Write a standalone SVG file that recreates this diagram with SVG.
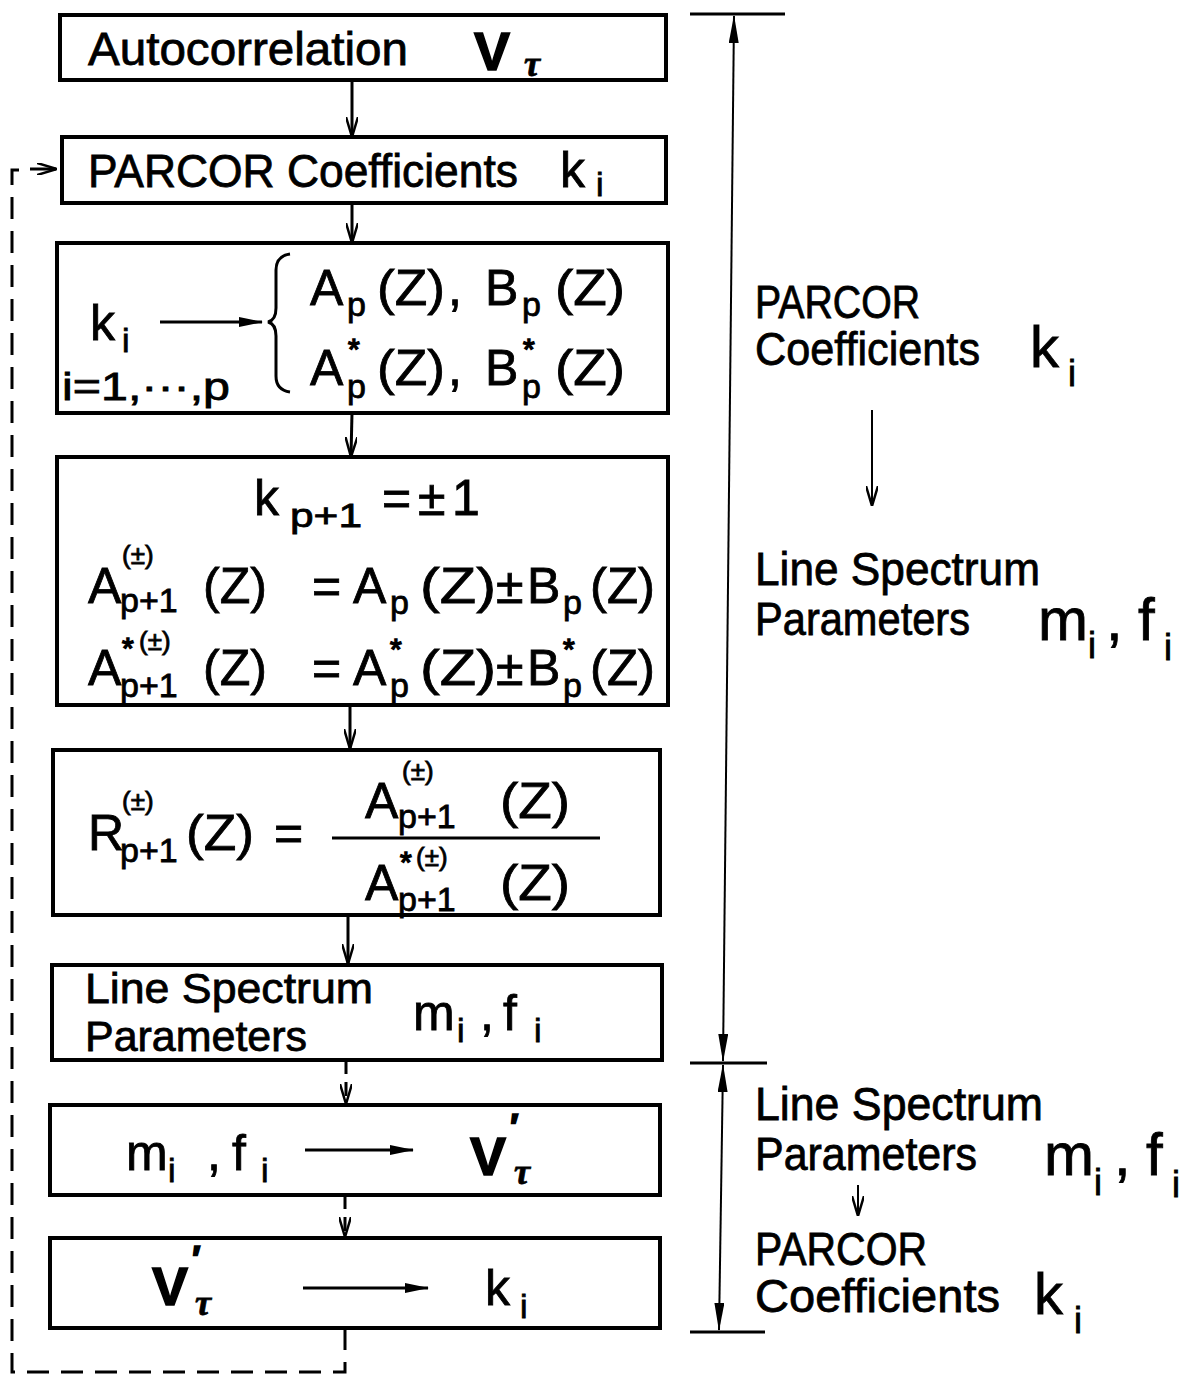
<svg xmlns="http://www.w3.org/2000/svg" width="1184" height="1375" viewBox="0 0 1184 1375">
<defs>
<style>
.box{fill:#fff;stroke:#000;stroke-width:4}
.t{font-family:"Liberation Sans","DejaVu Sans",sans-serif;fill:#000;stroke:#000;stroke-width:0.8}
.m{font-size:50px}
.s{font-size:34px}
.sup{font-size:26px}
.ast{font-size:30px;stroke-width:1.5}
.b{font-weight:bold;stroke-width:1.5}
.tau{font-family:"Liberation Serif",serif;font-style:italic;font-weight:bold}
.ln{fill:none;stroke:#000;stroke-width:3}
.dash{fill:none;stroke:#000;stroke-width:3;stroke-dasharray:22 12}
.thin{fill:none;stroke:#000;stroke-width:2}
</style>
<marker id="ah" viewBox="0 0 20 12" refX="19" refY="6" markerWidth="20" markerHeight="12" markerUnits="userSpaceOnUse" orient="auto">
<path d="M0,0 L20,6 L0,12" fill="none" stroke="#000" stroke-width="2.5"/>
</marker>
<marker id="af" viewBox="0 0 24 10" refX="23" refY="5" markerWidth="24" markerHeight="10" markerUnits="userSpaceOnUse" orient="auto">
<path d="M0,0 L24,5 L0,10 Z" fill="#000"/>
</marker>
<marker id="ad" viewBox="0 0 28 10" refX="27" refY="5" markerWidth="28" markerHeight="10" markerUnits="userSpaceOnUse" orient="auto-start-reverse">
<path d="M0,0 L28,5 L0,10 Z" fill="#000"/>
</marker>
</defs>

<g id="connectors">
<line class="ln" x1="352" y1="80" x2="352" y2="136" marker-end="url(#ah)"/>
<line class="ln" x1="352" y1="203" x2="352" y2="242" marker-end="url(#ah)"/>
<line class="ln" x1="352" y1="413" x2="351" y2="456" marker-end="url(#ah)"/>
<line class="ln" x1="350" y1="705" x2="350" y2="748" marker-end="url(#ah)"/>
<line class="ln" x1="348" y1="915" x2="348" y2="963" marker-end="url(#ah)"/>
<line class="ln" x1="346" y1="1060" x2="346" y2="1103" stroke-dasharray="14 8" marker-end="url(#ah)"/>
<line class="ln" x1="345" y1="1195" x2="345" y2="1236" stroke-dasharray="14 8" marker-end="url(#ah)"/>
<path class="dash" d="M345,1328 V1372 H12 V170 H26"/>
<line class="ln" x1="30" y1="169" x2="56" y2="169" marker-end="url(#ah)"/>
<line class="ln" x1="690" y1="14" x2="785" y2="14"/>
<line class="ln" x1="690" y1="1063" x2="767" y2="1063"/>
<line class="ln" x1="690" y1="1332" x2="765" y2="1332"/>
<line class="thin" x1="734" y1="16" x2="723" y2="1061" marker-start="url(#ad)" marker-end="url(#ad)"/>
<line class="thin" x1="723" y1="1065" x2="719" y2="1330" marker-start="url(#ad)" marker-end="url(#ad)"/>
<line class="thin" x1="872" y1="410" x2="872" y2="505" marker-end="url(#ah)"/>
<line class="thin" x1="858" y1="1185" x2="858" y2="1215" marker-end="url(#ah)"/>
</g>

<g id="n1">
<rect class="box" x="60" y="15" width="606" height="65"/>
<text class="t" x="88" y="65" font-size="46" textLength="320" lengthAdjust="spacingAndGlyphs">Autocorrelation</text>
<text class="t b" x="474" y="70" font-size="54">V</text>
<text class="t tau" x="524" y="76" font-size="36">τ</text>
</g>

<g id="n2">
<rect class="box" x="62" y="137" width="604" height="66"/>
<text class="t" x="88" y="187" font-size="46" textLength="430" lengthAdjust="spacingAndGlyphs">PARCOR Coefficients</text>
<text class="t m" x="560" y="187">k</text>
<text class="t s" x="596" y="196">i</text>
</g>

<g id="n3">
<rect class="box" x="57" y="243" width="611" height="170"/>
<text class="t m" x="90" y="340">k</text>
<text class="t s" x="122" y="352">i</text>
<line class="ln" x1="160" y1="322" x2="262" y2="322" marker-end="url(#af)"/>
<path d="M290,254 Q276,256 276,270 V308 Q276,320 268,322 Q276,324 276,336 V376 Q276,390 290,392" fill="none" stroke="#000" stroke-width="3"/>
<text class="t" x="62" y="400" font-size="38" textLength="168" lengthAdjust="spacingAndGlyphs">i=1,···,p</text>
<text class="t m" x="310" y="305">A</text>
<text class="t s" x="347" y="316">p</text>
<text class="t m" x="377" y="305" textLength="68" lengthAdjust="spacingAndGlyphs">(Z)</text>
<text class="t m" x="448" y="305">,</text>
<text class="t m" x="485" y="305">B</text>
<text class="t s" x="522" y="316">p</text>
<text class="t m" x="555" y="305" textLength="70" lengthAdjust="spacingAndGlyphs">(Z)</text>
<text class="t m" x="310" y="385">A</text>
<text class="t ast" x="348" y="359">*</text>
<text class="t s" x="347" y="398">p</text>
<text class="t m" x="377" y="385" textLength="68" lengthAdjust="spacingAndGlyphs">(Z)</text>
<text class="t m" x="448" y="385">,</text>
<text class="t m" x="485" y="385">B</text>
<text class="t ast" x="523" y="359">*</text>
<text class="t s" x="522" y="398">p</text>
<text class="t m" x="555" y="385" textLength="70" lengthAdjust="spacingAndGlyphs">(Z)</text>
</g>

<g id="n4">
<rect class="box" x="57" y="457" width="611" height="248"/>
<text class="t m" x="254" y="515">k</text>
<text class="t s" x="290" y="527" textLength="72" lengthAdjust="spacingAndGlyphs">p+1</text>
<text class="t m" x="382" y="515">=</text>
<text class="t m" x="418" y="515">±</text>
<text class="t m" x="452" y="515">1</text>
<text class="t m" x="88" y="603">A</text>
<text class="t sup" x="122" y="564">(±)</text>
<text class="t s" x="120" y="612">p+1</text>
<text class="t m" x="203" y="603" textLength="64" lengthAdjust="spacingAndGlyphs">(Z)</text>
<text class="t m" x="312" y="603">=</text>
<text class="t m" x="353" y="603">A</text>
<text class="t s" x="390" y="614">p</text>
<text class="t m" x="420" y="603" textLength="76" lengthAdjust="spacingAndGlyphs">(Z)</text>
<text class="t m" x="496" y="603">±</text>
<text class="t m" x="527" y="603">B</text>
<text class="t s" x="563" y="614">p</text>
<text class="t m" x="590" y="603" textLength="65" lengthAdjust="spacingAndGlyphs">(Z)</text>
<text class="t m" x="88" y="685">A</text>
<text class="t ast" x="122" y="658">*</text>
<text class="t sup" x="139" y="650">(±)</text>
<text class="t s" x="120" y="697">p+1</text>
<text class="t m" x="203" y="685" textLength="64" lengthAdjust="spacingAndGlyphs">(Z)</text>
<text class="t m" x="312" y="685">=</text>
<text class="t m" x="353" y="685">A</text>
<text class="t ast" x="390" y="659">*</text>
<text class="t s" x="390" y="697">p</text>
<text class="t m" x="420" y="685" textLength="76" lengthAdjust="spacingAndGlyphs">(Z)</text>
<text class="t m" x="496" y="685">±</text>
<text class="t m" x="527" y="685">B</text>
<text class="t ast" x="563" y="659">*</text>
<text class="t s" x="563" y="697">p</text>
<text class="t m" x="590" y="685" textLength="65" lengthAdjust="spacingAndGlyphs">(Z)</text>
</g>

<g id="n5">
<rect class="box" x="53" y="750" width="607" height="165"/>
<text class="t m" x="88" y="850">R</text>
<text class="t sup" x="122" y="810">(±)</text>
<text class="t s" x="120" y="862">p+1</text>
<text class="t m" x="186" y="850" textLength="68" lengthAdjust="spacingAndGlyphs">(Z)</text>
<text class="t m" x="274" y="850">=</text>
<text class="t m" x="365" y="818">A</text>
<text class="t sup" x="402" y="780">(±)</text>
<text class="t s" x="398" y="828" font-size="32">p+1</text>
<text class="t m" x="500" y="818" textLength="70" lengthAdjust="spacingAndGlyphs">(Z)</text>
<line x1="332" y1="838" x2="600" y2="838" stroke="#000" stroke-width="3"/>
<text class="t m" x="365" y="900">A</text>
<text class="t ast" x="400" y="872">*</text>
<text class="t sup" x="416" y="866">(±)</text>
<text class="t s" x="398" y="911">p+1</text>
<text class="t m" x="500" y="900" textLength="70" lengthAdjust="spacingAndGlyphs">(Z)</text>
</g>

<g id="n6">
<rect class="box" x="52" y="965" width="610" height="95"/>
<text class="t" x="85" y="1003" font-size="43" textLength="288" lengthAdjust="spacingAndGlyphs">Line Spectrum</text>
<text class="t" x="85" y="1051" font-size="43" textLength="222" lengthAdjust="spacingAndGlyphs">Parameters</text>
<text class="t m" x="413" y="1030">m</text>
<text class="t s" x="457" y="1042">i</text>
<text class="t m" x="480" y="1030">,</text>
<text class="t m" x="503" y="1030">f</text>
<text class="t s" x="534" y="1042">i</text>
</g>

<g id="n7">
<rect class="box" x="50" y="1105" width="610" height="90"/>
<text class="t m" x="126" y="1170">m</text>
<text class="t s" x="168" y="1182">i</text>
<text class="t m" x="207" y="1170">,</text>
<text class="t m" x="232" y="1170">f</text>
<text class="t s" x="261" y="1182">i</text>
<line class="ln" x1="305" y1="1150" x2="413" y2="1150" marker-end="url(#af)"/>
<text class="t b" x="470" y="1175" font-size="54">V</text>
<text class="t b" x="510" y="1140" font-size="36">′</text>
<text class="t tau" x="514" y="1184" font-size="36">τ</text>
</g>

<g id="n8">
<rect class="box" x="50" y="1238" width="610" height="90"/>
<text class="t b" x="152" y="1305" font-size="54">V</text>
<text class="t b" x="192" y="1272" font-size="36">′</text>
<text class="t tau" x="195" y="1315" font-size="36">τ</text>
<line class="ln" x1="303" y1="1288" x2="428" y2="1288" marker-end="url(#af)"/>
<text class="t m" x="485" y="1305">k</text>
<text class="t s" x="520" y="1318">i</text>
</g>

<g id="labels">
<text class="t" x="755" y="318" font-size="46" textLength="165" lengthAdjust="spacingAndGlyphs">PARCOR</text>
<text class="t" x="755" y="365" font-size="46" textLength="225" lengthAdjust="spacingAndGlyphs">Coefficients</text>
<text class="t" x="1030" y="367" font-size="58">k</text>
<text class="t" x="1068" y="386" font-size="36">i</text>
<text class="t" x="755" y="585" font-size="46" textLength="285" lengthAdjust="spacingAndGlyphs">Line Spectrum</text>
<text class="t" x="755" y="635" font-size="46" textLength="215" lengthAdjust="spacingAndGlyphs">Parameters</text>
<text class="t" x="1038" y="640" font-size="60">m</text>
<text class="t" x="1088" y="658" font-size="36">i</text>
<text class="t" x="1106" y="640" font-size="60">,</text>
<text class="t" x="1138" y="640" font-size="60">f</text>
<text class="t" x="1164" y="660" font-size="36">i</text>
<text class="t" x="755" y="1120" font-size="46" textLength="288" lengthAdjust="spacingAndGlyphs">Line Spectrum</text>
<text class="t" x="755" y="1170" font-size="46" textLength="222" lengthAdjust="spacingAndGlyphs">Parameters</text>
<text class="t" x="1044" y="1175" font-size="60">m</text>
<text class="t" x="1094" y="1195" font-size="36">i</text>
<text class="t" x="1114" y="1175" font-size="60">,</text>
<text class="t" x="1146" y="1175" font-size="60">f</text>
<text class="t" x="1172" y="1197" font-size="36">i</text>
<text class="t" x="755" y="1265" font-size="46" textLength="172" lengthAdjust="spacingAndGlyphs">PARCOR</text>
<text class="t" x="755" y="1312" font-size="46" textLength="245" lengthAdjust="spacingAndGlyphs">Coefficients</text>
<text class="t" x="1034" y="1314" font-size="58">k</text>
<text class="t" x="1074" y="1333" font-size="36">i</text>
</g>
</svg>
